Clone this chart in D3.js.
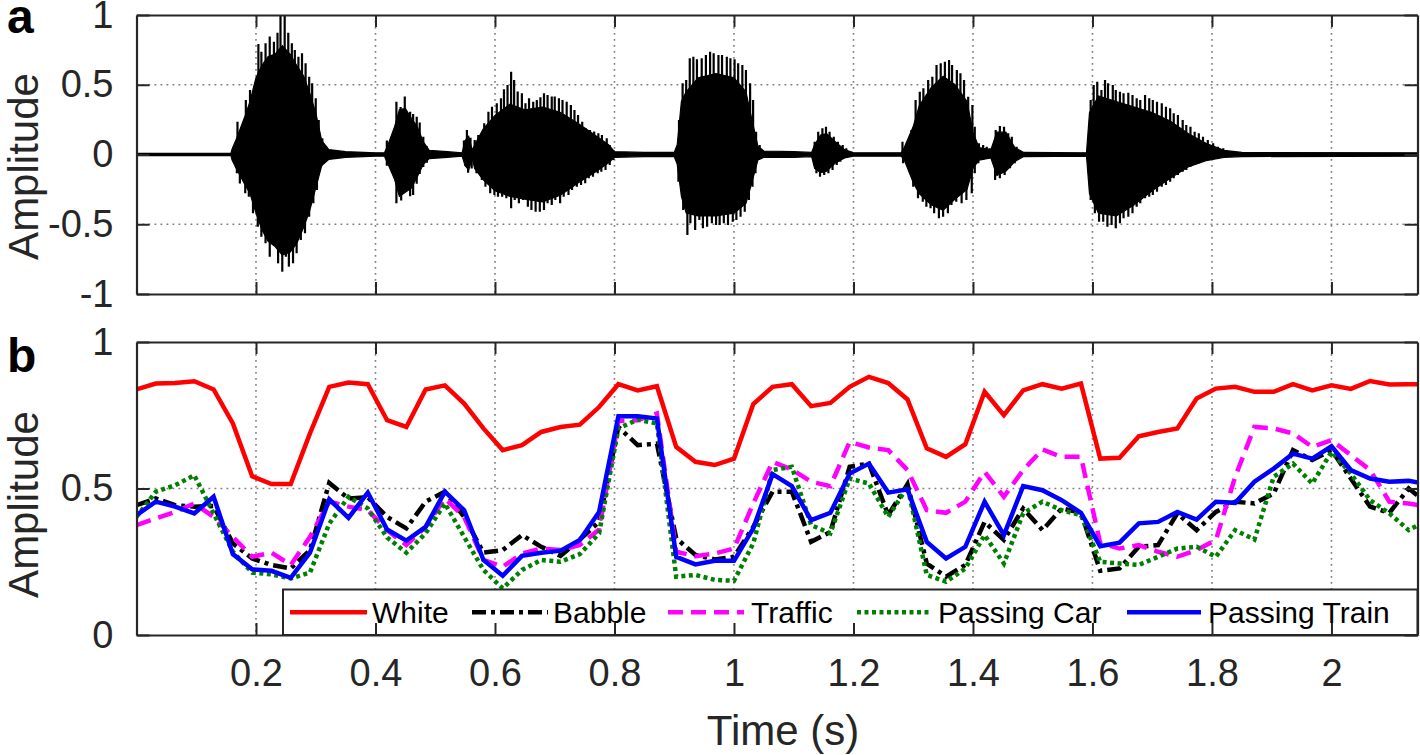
<!DOCTYPE html>
<html><head><meta charset="utf-8">
<script src="https://cdn.jsdelivr.net/npm/d3@7"></script>
<style>
html,body{margin:0;padding:0;background:#fff;}
svg{display:block;font-family:"Liberation Sans",Arial,Helvetica,sans-serif;}
</style>
</head><body>
<svg id="chart" width="1420" height="755"></svg>
<script>
// ---------------- DATA ----------------
const xTickValues = [0.2,0.4,0.6,0.8,1.0,1.2,1.4,1.6,1.8,2.0];
const xTickLabels = ["0.2","0.4","0.6","0.8","1","1.2","1.4","1.6","1.8","2"];
const yTickValuesA = [-1,-0.5,0,0.5,1];
const yTickLabelsA = ["-1","-0.5","0","0.5","1"];
const yTickValuesB = [0,0.5,1];
const yTickLabelsB = ["0","0.5","1"];
const seriesNames = ["White","Babble","Traffic","Passing Car","Passing Train"];

// panel a: speech waveform, dense body envelope (time s, upper, lower)
const coreT  = [0,0.158,0.160,0.168,0.182,0.190,0.200,0.210,0.220,0.232,0.244,0.257,0.268,0.280,0.290,0.300,0.310,0.322,0.350,0.400,0.415,0.420,0.432,0.440,0.450,0.460,0.470,0.480,0.490,0.520,0.545,0.550,0.556,0.562,0.566,0.580,0.600,0.625,0.650,0.680,0.710,0.740,0.770,0.790,0.800,0.850,0.900,0.905,0.912,0.920,0.940,0.970,1.000,1.020,1.030,1.040,1.050,1.100,1.130,1.135,1.145,1.155,1.170,1.185,1.200,1.280,1.285,1.300,1.310,1.330,1.350,1.370,1.390,1.400,1.410,1.430,1.440,1.455,1.470,1.485,1.590,1.595,1.610,1.640,1.670,1.700,1.730,1.760,1.790,1.820,1.850,2.144];
const coreHi = [0.008,0.008,0.04,0.12,0.28,0.38,0.55,0.64,0.70,0.72,0.78,0.72,0.64,0.56,0.44,0.30,0.10,0.035,0.02,0.012,0.012,0.06,0.20,0.32,0.33,0.26,0.20,0.09,0.03,0.02,0.012,0.10,0.13,0.03,0.07,0.18,0.28,0.36,0.32,0.34,0.30,0.22,0.13,0.07,0.02,0.015,0.015,0.07,0.38,0.45,0.55,0.58,0.55,0.45,0.25,0.06,0.025,0.02,0.015,0.07,0.14,0.15,0.09,0.035,0.012,0.012,0.05,0.20,0.35,0.48,0.56,0.50,0.38,0.16,0.05,0.035,0.16,0.16,0.05,0.015,0.012,0.30,0.42,0.38,0.34,0.30,0.24,0.15,0.08,0.03,0.015,0.012];
const coreLo = [-0.008,-0.008,-0.04,-0.11,-0.22,-0.28,-0.42,-0.54,-0.62,-0.66,-0.72,-0.70,-0.64,-0.52,-0.40,-0.24,-0.08,-0.035,-0.02,-0.012,-0.012,-0.06,-0.18,-0.30,-0.27,-0.24,-0.16,-0.07,-0.03,-0.02,-0.012,-0.08,-0.11,-0.03,-0.10,-0.18,-0.26,-0.30,-0.32,-0.34,-0.29,-0.20,-0.12,-0.06,-0.02,-0.015,-0.015,-0.07,-0.30,-0.42,-0.44,-0.44,-0.42,-0.35,-0.20,-0.04,-0.02,-0.02,-0.015,-0.10,-0.13,-0.12,-0.06,-0.025,-0.012,-0.012,-0.04,-0.20,-0.28,-0.36,-0.40,-0.32,-0.25,-0.10,-0.04,-0.025,-0.15,-0.12,-0.05,-0.015,-0.012,-0.28,-0.42,-0.44,-0.36,-0.26,-0.17,-0.09,-0.045,-0.02,-0.015,-0.012];

// panel a: pitch pulses (positive peaks and negative troughs)
const peakT = [0.169,0.175,0.183,0.190,0.197,0.204,0.209,0.216,0.223,0.230,0.236,0.241,0.248,0.254,0.260,0.265,0.271,0.277,0.283,0.289,0.294,0.300,0.305,0.311,0.318,
0.419,0.435,0.442,0.449,0.458,0.463,0.469,0.474,0.480,0.486,
0.548,0.553,0.559,
0.566,0.572,0.582,0.589,0.595,0.603,0.610,0.615,0.621,0.627,0.632,0.638,0.645,0.651,0.657,0.664,0.670,0.676,0.682,0.688,0.695,0.700,0.707,0.713,0.720,0.727,0.733,0.739,0.746,0.752,0.759,0.766,0.773,0.779,0.787,0.792,0.798,
0.908,0.914,0.920,0.926,0.932,0.938,0.946,0.953,0.960,0.966,0.974,0.980,0.988,0.994,1.001,1.007,1.014,1.020,1.027,1.032,1.037,1.043,
1.135,1.141,1.148,1.154,1.160,1.167,1.174,1.182,1.188,1.197,
1.282,1.297,1.304,1.311,1.317,1.325,1.332,1.339,1.346,1.353,1.360,1.365,1.373,1.379,1.385,1.392,1.399,1.403,1.410,1.417,1.423,1.428,
1.438,1.445,1.452,1.459,1.465,1.473,1.481,
1.597,1.602,1.608,1.615,1.621,1.626,1.634,1.639,1.646,1.652,1.660,1.667,1.674,1.680,1.688,1.695,1.701,1.708,1.716,1.723,1.730,1.736,1.743,1.751,1.757,1.764,1.771,1.778,1.785,1.793,1.802,1.810,1.819];
const peakV = [0.235,0.133,0.391,0.462,0.491,0.792,0.737,0.797,0.845,0.809,0.873,0.993,1.0,0.873,0.797,0.749,0.701,0.725,0.654,0.558,0.510,0.403,0.247,0.116,0.054,
0.10,0.378,0.34,0.415,0.307,0.29,0.271,0.23,0.128,0.06,
0.10,0.176,0.12,
0.104,0.140,0.224,0.307,0.342,0.367,0.403,0.468,0.498,0.594,0.534,0.451,0.439,0.367,0.403,0.379,0.391,0.410,0.439,0.427,0.415,0.415,0.403,0.391,0.379,0.355,0.319,0.283,0.235,0.188,0.176,0.164,0.152,0.140,0.116,0.068,0.032,
0.247,0.510,0.534,0.690,0.701,0.682,0.690,0.713,0.737,0.725,0.713,0.713,0.701,0.690,0.682,0.654,0.642,0.606,0.510,0.391,0.163,0.068,
0.092,0.163,0.188,0.199,0.163,0.128,0.092,0.068,0.044,0.020,
0.092,0.176,0.391,0.450,0.475,0.534,0.558,0.642,0.654,0.665,0.677,0.642,0.606,0.582,0.534,0.414,0.355,0.199,0.080,0.068,0.056,0.044,
0.176,0.204,0.199,0.152,0.128,0.056,0.020,
0.391,0.498,0.522,0.462,0.534,0.510,0.498,0.462,0.450,0.439,0.443,0.427,0.403,0.391,0.427,0.403,0.391,0.379,0.367,0.343,0.331,0.295,0.283,0.247,0.211,0.199,0.163,0.152,0.128,0.104,0.080,0.056,0.044];
const troughT = [0.168,0.173,0.182,0.188,0.195,0.203,0.209,0.216,0.223,0.231,0.237,0.244,0.250,0.255,0.262,0.268,0.275,0.282,0.289,0.296,0.302,0.309,0.315,
0.419,0.435,0.443,0.458,0.463,0.469,0.474,0.480,0.486,
0.550,0.555,0.561,
0.569,0.578,0.584,0.592,0.599,0.605,0.612,0.619,0.627,0.633,0.640,0.647,0.655,0.661,0.668,0.675,0.682,0.688,0.695,0.701,0.709,0.715,0.723,0.729,0.737,0.744,0.751,0.757,0.764,0.772,0.778,0.785,0.792,0.798,
0.907,0.915,0.922,0.927,0.935,0.942,0.948,0.955,0.963,0.970,0.976,0.983,0.990,0.998,1.004,1.011,1.018,1.025,1.031,1.036,1.042,
1.138,1.144,1.151,1.158,1.165,1.172,1.178,1.184,1.193,
1.283,1.300,1.308,1.316,1.322,1.329,1.335,1.343,1.350,1.358,1.364,1.372,1.381,1.389,1.398,1.403,1.409,1.417,1.428,
1.437,1.445,1.453,1.462,1.470,1.478,
1.597,1.604,1.611,1.618,1.625,1.632,1.639,1.646,1.652,1.660,1.667,1.674,1.680,1.688,1.695,1.701,1.708,1.716,1.723,1.730,1.736,1.743,1.751,1.757,1.764,1.771,1.778,1.785,1.793,1.802,1.810,1.819];
const troughV = [-0.135,-0.207,-0.278,-0.302,-0.422,-0.518,-0.589,-0.637,-0.733,-0.637,-0.780,-0.840,-0.733,-0.804,-0.780,-0.708,-0.613,-0.565,-0.446,-0.350,-0.254,-0.087,-0.039,
-0.08,-0.35,-0.33,-0.30,-0.29,-0.21,-0.14,-0.09,-0.06,
-0.08,-0.13,-0.10,
-0.135,-0.183,-0.231,-0.278,-0.290,-0.303,-0.303,-0.314,-0.386,-0.326,-0.350,-0.326,-0.374,-0.398,-0.410,-0.410,-0.398,-0.350,-0.362,-0.326,-0.350,-0.303,-0.290,-0.254,-0.231,-0.219,-0.206,-0.171,-0.159,-0.135,-0.123,-0.111,-0.075,-0.039,
-0.195,-0.398,-0.577,-0.493,-0.541,-0.470,-0.529,-0.518,-0.493,-0.505,-0.505,-0.493,-0.505,-0.482,-0.470,-0.446,-0.410,-0.326,-0.231,-0.135,-0.039,
-0.135,-0.159,-0.147,-0.135,-0.111,-0.075,-0.052,-0.027,-0.016,
-0.063,-0.231,-0.314,-0.338,-0.374,-0.386,-0.422,-0.457,-0.446,-0.422,-0.362,-0.338,-0.350,-0.326,-0.278,-0.135,-0.063,-0.039,-0.016,
-0.183,-0.171,-0.147,-0.099,-0.063,-0.027,
-0.326,-0.422,-0.482,-0.482,-0.518,-0.505,-0.529,-0.493,-0.457,-0.446,-0.422,-0.374,-0.350,-0.314,-0.303,-0.290,-0.267,-0.231,-0.219,-0.195,-0.171,-0.147,-0.123,-0.111,-0.087,-0.075,-0.063,-0.052,-0.039,-0.027,-0.016,-0.016];

// panel b: frame-wise amplitude per noise type (one value per 32.26 ms frame)
const FRAME_STEP = 0.03226;
const white = [0.838,0.858,0.86,0.866,0.838,0.722,0.542,0.515,0.515,0.688,0.847,0.862,0.856,0.733,0.71,0.838,0.852,0.79,0.705,0.631,0.648,0.693,0.71,0.718,0.778,0.856,0.835,0.849,0.642,0.591,0.58,0.602,0.788,0.847,0.856,0.781,0.792,0.847,0.881,0.86,0.804,0.637,0.608,0.651,0.83,0.75,0.835,0.856,0.841,0.858,0.602,0.605,0.678,0.693,0.705,0.807,0.841,0.847,0.83,0.83,0.856,0.835,0.852,0.84,0.867,0.855,0.856,0.856];
const babble = [0.443,0.466,0.443,0.438,0.44,0.313,0.261,0.239,0.227,0.29,0.519,0.466,0.47,0.403,0.364,0.455,0.489,0.403,0.281,0.29,0.341,0.301,0.27,0.326,0.386,0.71,0.648,0.653,0.33,0.273,0.258,0.267,0.369,0.489,0.489,0.318,0.352,0.574,0.585,0.409,0.515,0.244,0.199,0.239,0.386,0.324,0.432,0.358,0.432,0.417,0.219,0.227,0.301,0.307,0.415,0.358,0.42,0.455,0.449,0.483,0.631,0.597,0.631,0.534,0.438,0.417,0.5,0.449];
const traffic = [0.375,0.398,0.42,0.449,0.403,0.335,0.267,0.281,0.239,0.335,0.455,0.438,0.426,0.358,0.307,0.369,0.466,0.403,0.256,0.233,0.278,0.295,0.29,0.307,0.36,0.731,0.733,0.756,0.284,0.269,0.278,0.295,0.449,0.591,0.565,0.523,0.508,0.659,0.64,0.631,0.563,0.426,0.417,0.455,0.557,0.472,0.563,0.633,0.608,0.608,0.313,0.295,0.307,0.284,0.267,0.29,0.324,0.54,0.71,0.705,0.688,0.642,0.665,0.614,0.563,0.455,0.449,0.438];
const passingCar = [0.403,0.489,0.511,0.545,0.415,0.284,0.213,0.207,0.193,0.213,0.38,0.472,0.432,0.333,0.281,0.347,0.449,0.335,0.222,0.159,0.222,0.256,0.25,0.276,0.347,0.705,0.735,0.722,0.199,0.205,0.188,0.185,0.313,0.563,0.574,0.375,0.347,0.534,0.517,0.403,0.506,0.205,0.182,0.227,0.341,0.244,0.415,0.455,0.426,0.409,0.25,0.244,0.239,0.267,0.295,0.301,0.267,0.358,0.326,0.54,0.585,0.517,0.625,0.551,0.46,0.415,0.358,0.392];
const passingTrain = [0.409,0.455,0.438,0.415,0.472,0.276,0.224,0.219,0.195,0.281,0.463,0.4,0.486,0.36,0.322,0.369,0.489,0.426,0.256,0.202,0.27,0.281,0.288,0.324,0.42,0.747,0.747,0.739,0.267,0.241,0.253,0.253,0.364,0.549,0.508,0.392,0.417,0.551,0.585,0.486,0.497,0.318,0.261,0.301,0.455,0.341,0.508,0.494,0.46,0.417,0.303,0.315,0.381,0.386,0.42,0.394,0.455,0.451,0.523,0.568,0.619,0.602,0.644,0.563,0.534,0.523,0.526,0.515];

// ---------------- STYLES ----------------
const seriesStyle = [
  {values: white,        color: "#ff0000", dash: null},
  {values: babble,       color: "#000000", dash: "14,5,4,5"},
  {values: traffic,      color: "#ff00ff", dash: "15,8"},
  {values: passingCar,   color: "#008000", dash: "4,3.5"},
  {values: passingTrain, color: "#0000ff", dash: null}
];
const AX = "#262626";
const LW = 4.5;

// ---------------- LAYOUT ----------------
const svg = d3.select("#chart");
const L = 136.5, R = 1417.5;
const aTop = 15, aBot = 294, bTop = 342, bBot = 635;

const x  = d3.scaleLinear().domain([0, 2.144]).range([L, R]);
const yA = d3.scaleLinear().domain([-1, 1]).range([aBot, aTop]);
const yB = d3.scaleLinear().domain([0, 1]).range([bBot, bTop]);

const defs = svg.append("defs");
defs.append("clipPath").attr("id","clipA").append("rect")
  .attr("x",L).attr("y",aTop).attr("width",R-L).attr("height",aBot-aTop);
defs.append("clipPath").attr("id","clipB").append("rect")
  .attr("x",L).attr("y",bTop).attr("width",R-L).attr("height",bBot-bTop);

function grid(yScale, top, bot, yGrid){
  const g = svg.append("g").attr("stroke","#7f7f7f").attr("stroke-width",1.6)
    .attr("stroke-dasharray","1.8,4.2");
  g.selectAll(".gx").data(xTickValues).join("line")
    .attr("x1",d=>x(d)).attr("x2",d=>x(d)).attr("y1",top).attr("y2",bot);
  g.selectAll(".gy").data(yGrid).join("line")
    .attr("x1",L).attr("x2",R).attr("y1",d=>yScale(d)).attr("y2",d=>yScale(d));
}
grid(yA, aTop, aBot, [-0.5, 0, 0.5]);
grid(yB, bTop, bBot, [0.5]);

// ---------------- PANEL A: waveform ----------------
const gA = svg.append("g").attr("clip-path","url(#clipA)");
const coreData = coreT.map((t,i)=>[t, coreHi[i], coreLo[i]]);
gA.append("path").datum(coreData)
  .attr("fill","#000").attr("stroke","#000").attr("stroke-width",1.2)
  .attr("d", d3.area().x(d=>x(d[0])).y0(d=>yA(d[2])).y1(d=>yA(d[1])));
gA.append("line").attr("x1",x(0)).attr("x2",x(2.144))
  .attr("y1",yA(0)).attr("y2",yA(0)).attr("stroke","#000").attr("stroke-width",2.4);
gA.selectAll(".pk").data(peakT.map((t,i)=>[t,peakV[i]])).join("line")
  .attr("x1",d=>x(d[0])).attr("x2",d=>x(d[0]))
  .attr("y1",yA(0)).attr("y2",d=>yA(d[1]))
  .attr("stroke","#000").attr("stroke-width",2.2);
gA.selectAll(".tr").data(troughT.map((t,i)=>[t,troughV[i]])).join("line")
  .attr("x1",d=>x(d[0])).attr("x2",d=>x(d[0]))
  .attr("y1",yA(0)).attr("y2",d=>yA(d[1]))
  .attr("stroke","#000").attr("stroke-width",2.2);

// ---------------- PANEL B: lines ----------------
const gB = svg.append("g").attr("clip-path","url(#clipB)");
const line = d3.line().x((d,i)=>x(i*FRAME_STEP)).y(d=>yB(d));
seriesStyle.forEach(s=>{
  gB.append("path").datum(s.values)
    .attr("fill","none").attr("stroke",s.color).attr("stroke-width",LW)
    .attr("stroke-linejoin","miter").attr("stroke-miterlimit",3)
    .attr("stroke-dasharray",s.dash).attr("d",line);
});

// ---------------- AXES ----------------
function axes(yScale, top, bot, yVals, yLabs, showX){
  const fmtX = d => xTickLabels[xTickValues.indexOf(d)];
  const fmtY = d => yLabs[yVals.indexOf(d)];
  const bottom = svg.append("g").attr("transform",`translate(0,${bot})`)
    .call(d3.axisBottom(x).tickValues(xTickValues).tickSizeInner(-12).tickSizeOuter(0)
      .tickPadding(24).tickFormat(showX ? fmtX : ()=>""));
  const topAx = svg.append("g").attr("transform",`translate(0,${top})`)
    .call(d3.axisTop(x).tickValues(xTickValues).tickSizeInner(-12).tickSizeOuter(0).tickFormat(()=>""));
  const leftAx = svg.append("g").attr("transform",`translate(${L},0)`)
    .call(d3.axisLeft(yScale).tickValues(yVals).tickSizeInner(-13).tickSizeOuter(0)
      .tickPadding(23).tickFormat(fmtY));
  const rightAx = svg.append("g").attr("transform",`translate(${R},0)`)
    .call(d3.axisRight(yScale).tickValues(yVals).tickSizeInner(-13).tickSizeOuter(0).tickFormat(()=>""));
  [bottom, topAx, leftAx, rightAx].forEach(g=>{
    g.select(".domain").attr("stroke",AX).attr("stroke-width",2.2);
    g.selectAll(".tick line").attr("stroke",AX).attr("stroke-width",2);
    g.selectAll(".tick text").attr("fill",AX).attr("font-size",38)
      .attr("font-family",'"Liberation Sans",Arial,sans-serif');
  });
}
axes(yA, aTop, aBot, yTickValuesA, yTickLabelsA, false);

// legend
const legW = 1134.5, legH = 45.5;
const leg = svg.append("g");
leg.append("rect").attr("x",R-legW).attr("y",bBot-legH).attr("width",legW).attr("height",legH)
  .attr("fill","#fff").attr("stroke",AX).attr("stroke-width",2);
const legItems = [
  {x1:290, x2:367, tx:372},
  {x1:472, x2:548, tx:553},
  {x1:668, x2:744, tx:751},
  {x1:857, x2:932, tx:938},
  {x1:1127, x2:1201, tx:1208}
];
const legY = bBot - legH/2;
legItems.forEach((it,i)=>{
  const s = seriesStyle[i];
  leg.append("line").attr("x1",it.x1).attr("x2",it.x2).attr("y1",legY).attr("y2",legY)
    .attr("stroke",s.color).attr("stroke-width",LW).attr("stroke-dasharray",s.dash);
  leg.append("text").attr("x",it.tx).attr("y",legY+10.5).attr("font-size",30)
    .attr("fill","#000").text(seriesNames[i]);
});

axes(yB, bTop, bBot, yTickValuesB, yTickLabelsB, true);

// axis titles and panel letters
svg.append("text").attr("x",783).attr("y",745).attr("text-anchor","middle")
  .attr("font-size",42).attr("fill",AX).text("Time (s)");
[(aTop+aBot)/2 + 12, (bTop+bBot)/2 + 16].forEach(cy=>{
  svg.append("text").attr("transform",`translate(38,${cy}) rotate(-90)`)
    .attr("text-anchor","middle").attr("font-size",42).attr("fill",AX).text("Amplitude");
});
svg.append("text").attr("x",7).attr("y",33).attr("font-size",48).attr("font-weight","bold").text("a");
svg.append("text").attr("x",7).attr("y",372).attr("font-size",48).attr("font-weight","bold").text("b");
</script>
</body></html>
